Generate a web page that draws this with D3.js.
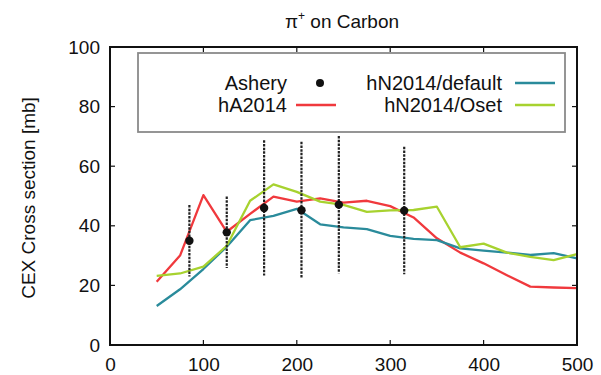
<!DOCTYPE html>
<html>
<head>
<meta charset="utf-8">
<script src="https://cdn.jsdelivr.net/npm/d3@7"></script>
<style>
  body { margin: 0; background: #fff; }
  text { font-family: "Liberation Sans", Arial, sans-serif; fill: #111; }
</style>
</head>
<body>
<div class="chart"></div>
<script>
// data
const energies = [50, 75, 100, 125, 150, 175, 200, 225, 250, 275, 300, 325, 350, 375, 400, 425, 450, 475, 500];
const hA2014 = [21.2, 30, 50.3, 38, 44, 49.8, 48.1, 49.2, 47.8, 48.4, 46.6, 42.8, 35.8, 31, 27.4, 23.4, 19.6, 19.3, 19.1];
const hN2014Default = [13.1, 18.7, 25.5, 33, 41.9, 43.3, 45.7, 40.5, 39.5, 38.9, 36.6, 35.6, 35.2, 32.4, 31.7, 31, 30.2, 30.8, 29.1];
const hN2014Oset = [23.2, 24, 26.3, 33.3, 48.4, 53.9, 51.4, 48.1, 47, 44.7, 45.2, 45.3, 46.4, 32.8, 34, 31, 29.6, 28.5, 30.5];

const asheryX = [85, 125, 165, 205, 245, 315];
const asheryY = [35, 37.8, 46, 45.2, 47.1, 45.1];
const asheryErr = [12, 12, 22.7, 23, 23, 21.4];

const xTicks = [0, 100, 200, 300, 400, 500];
const yTicks = [0, 20, 40, 60, 80, 100];

// 1. svg + margin convention
const margin = { top: 47, right: 24, bottom: 30, left: 110 };
const width = 577 - margin.left;
const height = 345 - margin.top;

const svg = d3
  .select('.chart')
  .append('svg')
  .attr('width', 601)
  .attr('height', 375);

const group = svg
  .append('g')
  .attr('transform', 'translate(' + margin.left + ',' + margin.top + ')');

// 2. scales
const xScale = d3.scaleLinear().domain([0, 500]).range([0, width]);
const yScale = d3.scaleLinear().domain([0, 100]).range([height, 0]);

// 3. axes, ticks on all four sides pointing inward
const xAxis = d3.axisBottom(xScale).tickValues(xTicks).tickSize(0).tickPadding(12);
const yAxis = d3.axisLeft(yScale).tickValues(yTicks).tickSize(0).tickPadding(10);

const xAxisGroup = group.append('g')
  .attr('class', 'x-axis axis')
  .attr('transform', 'translate(0,' + height + ')')
  .call(xAxis);
const yAxisGroup = group.append('g').attr('class', 'y-axis axis').call(yAxis);

[xAxisGroup, yAxisGroup].forEach((g) => {
  g.select('.domain').remove();
  g.selectAll('text').style('font-size', '19px').attr('fill', '#111');
});
xAxisGroup.selectAll('text').attr('dy', '0.75em');

const innerX = xTicks.slice(1, -1);
const innerY = yTicks.slice(1, -1);
const tickLen = 5;

group.selectAll('.tick-bottom').data(innerX).join('line')
  .attr('x1', (d) => xScale(d)).attr('x2', (d) => xScale(d))
  .attr('y1', height).attr('y2', height - tickLen)
  .attr('stroke', '#111').attr('stroke-width', 1.2);
group.selectAll('.tick-top').data(innerX).join('line')
  .attr('x1', (d) => xScale(d)).attr('x2', (d) => xScale(d))
  .attr('y1', 0).attr('y2', tickLen)
  .attr('stroke', '#111').attr('stroke-width', 1.2);
group.selectAll('.tick-left').data(innerY).join('line')
  .attr('x1', 0).attr('x2', tickLen)
  .attr('y1', (d) => yScale(d)).attr('y2', (d) => yScale(d))
  .attr('stroke', '#111').attr('stroke-width', 1.2);
group.selectAll('.tick-right').data(innerY).join('line')
  .attr('x1', width).attr('x2', width - tickLen)
  .attr('y1', (d) => yScale(d)).attr('y2', (d) => yScale(d))
  .attr('stroke', '#111').attr('stroke-width', 1.2);

// legend box (drawn before curves, they pass under it only where empty)
const legend = svg.append('g').attr('class', 'legend');
legend.append('rect')
  .attr('x', 138).attr('y', 53)
  .attr('width', 427).attr('height', 79)
  .attr('fill', 'none')
  .attr('stroke', '#8a8a8a')
  .attr('stroke-width', 1.8);

// 4. model curves
const series = [
  { name: 'hA2014', values: hA2014, color: '#f0393d' },
  { name: 'hN2014/default', values: hN2014Default, color: '#2a8b9b' },
  { name: 'hN2014/Oset', values: hN2014Oset, color: '#a7d22f' },
];

const line = d3
  .line()
  .x((d) => xScale(d[0]))
  .y((d) => yScale(d[1]));

group.selectAll('.curve').data(series).join('path')
  .attr('class', 'curve')
  .attr('d', (s) => line(energies.map((e, i) => [e, s.values[i]])))
  .attr('fill', 'none')
  .attr('stroke', (s) => s.color)
  .attr('stroke-width', 2.3)
  .attr('stroke-linejoin', 'round');

// 5. Ashery data with error bars
const ashery = asheryX.map((x, i) => ({ x, y: asheryY[i], err: asheryErr[i] }));

group.selectAll('.errbar').data(ashery).join('line')
  .attr('class', 'errbar')
  .attr('x1', (d) => xScale(d.x)).attr('x2', (d) => xScale(d.x))
  .attr('y1', (d) => yScale(d.y + d.err)).attr('y2', (d) => yScale(d.y - d.err))
  .attr('stroke', '#222')
  .attr('stroke-width', 2.2)
  .attr('stroke-dasharray', '2.5,1.2');

group.selectAll('.dot').data(ashery).join('circle')
  .attr('class', 'dot')
  .attr('cx', (d) => xScale(d.x))
  .attr('cy', (d) => yScale(d.y))
  .attr('r', 4.2)
  .attr('fill', '#111');

// frame
group.append('rect')
  .attr('width', width).attr('height', height)
  .attr('fill', 'none')
  .attr('stroke', '#111')
  .attr('stroke-width', 2);

// legend entries
const legendItems = [
  { label: 'Ashery', x: 287, y: 83, kind: 'dot', color: '#111', sx: 320 },
  { label: 'hA2014', x: 287, y: 105, kind: 'line', color: series[0].color, sx: 296 },
  { label: 'hN2014/default', x: 502, y: 83, kind: 'line', color: series[1].color, sx: 515 },
  { label: 'hN2014/Oset', x: 502, y: 105, kind: 'line', color: series[2].color, sx: 515 },
];

legendItems.forEach((d) => {
  legend.append('text')
    .attr('x', d.x).attr('y', d.y)
    .attr('dy', '0.35em')
    .attr('text-anchor', 'end')
    .style('font-size', '20px')
    .text(d.label);
  if (d.kind === 'dot') {
    legend.append('circle').attr('cx', d.sx).attr('cy', d.y).attr('r', 4).attr('fill', d.color);
  } else {
    legend.append('line')
      .attr('x1', d.sx).attr('x2', d.sx + 40)
      .attr('y1', d.y).attr('y2', d.y)
      .attr('stroke', d.color).attr('stroke-width', 2.3);
  }
});

// title
const title = svg.append('text')
  .attr('x', 342).attr('y', 28)
  .attr('text-anchor', 'middle')
  .style('font-size', '19px');
title.append('tspan').text('π');
title.append('tspan').attr('dy', -8).style('font-size', '12px').text('+');
title.append('tspan').attr('dy', 8).text(' on Carbon');

// y axis title
svg.append('text')
  .attr('transform', 'translate(35,' + (margin.top + height / 2 + 2) + ') rotate(-90)')
  .attr('text-anchor', 'middle')
  .style('font-size', '19px')
  .text('CEX Cross section [mb]');
</script>
</body>
</html>
